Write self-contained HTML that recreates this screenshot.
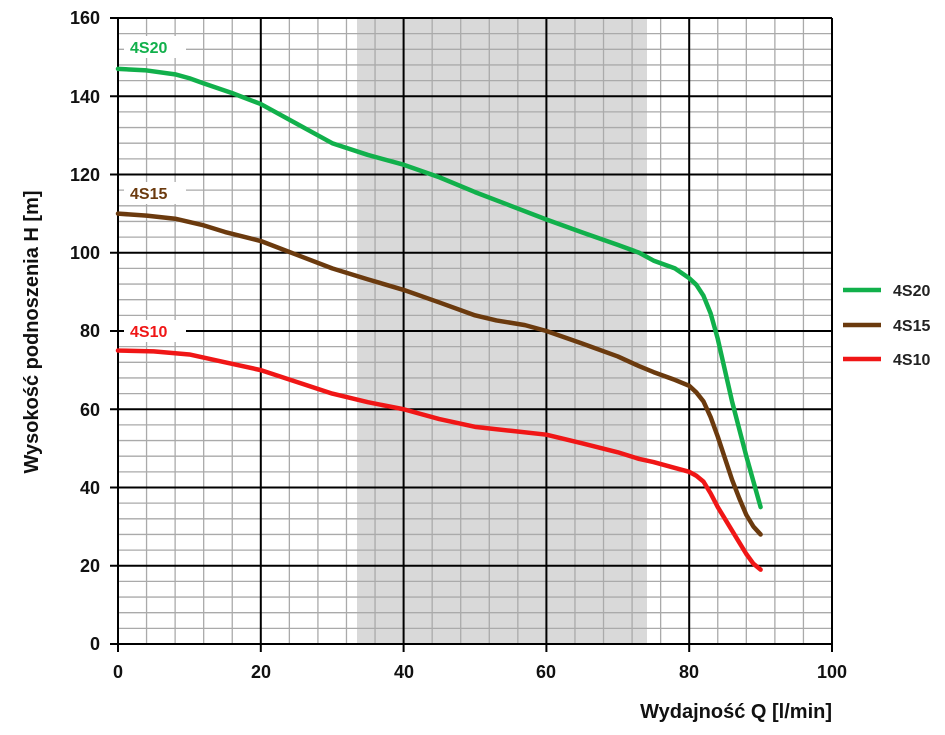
<!DOCTYPE html>
<html><head><style>body{margin:0;background:#fff}svg{display:block}text{font-family:"Liberation Sans",sans-serif}</style></head>
<body>
<svg width="945" height="735" viewBox="0 0 945 735">
<rect x="357" y="18" width="290" height="626" fill="#d9d9d9"/>
<path stroke="#aaa" stroke-width="1.3" fill="none" d="M146.56 18V644M175.12 18V644M203.68 18V644M232.24 18V644M289.36 18V644M317.92 18V644M346.48 18V644M375.04 18V644M432.16 18V644M460.72 18V644M489.28 18V644M517.84 18V644M574.96 18V644M603.52 18V644M632.08 18V644M660.64 18V644M717.76 18V644M746.32 18V644M774.88 18V644M803.44 18V644
M118 628.35H832M118 612.7H832M118 597.05H832M118 581.4H832M118 550.1H832M118 534.45H832M118 518.8H832M118 503.15H832M118 471.85H832M118 456.2H832M118 440.55H832M118 424.9H832M118 393.6H832M118 377.95H832M118 362.3H832M118 346.65H832M118 315.35H832M118 299.7H832M118 284.05H832M118 268.4H832M118 237.1H832M118 221.45H832M118 205.8H832M118 190.15H832M118 158.85H832M118 143.2H832M118 127.55H832M118 111.9H832M118 80.6H832M118 64.95H832M118 49.3H832M118 33.65H832"/>
<path stroke="#000" stroke-width="2" fill="none" d="M118 18V652M260.8 18V652M403.6 18V652M546.4 18V652M689.2 18V652M832 18V652
M110 644H832M110 565.75H832M110 487.5H832M110 409.25H832M110 331H832M110 252.75H832M110 174.5H832M110 96.25H832M110 18H832"/>
<g transform="translate(118,644) scale(7.14,-3.9125)" fill="none" stroke-linejoin="round" stroke-linecap="round">
<polyline vector-effect="non-scaling-stroke" stroke="#11b04b" stroke-width="4.5" points="0,147 4,146.6 8,145.6 10,144.6 12,143.3 16,140.8 20,138 25,133 30,128 35,125 40,122.5 45,119.3 50,115.5 55,112 60,108.5 65,105.2 70,102 73,100 75,98 78,96 80,93.5 81,91.8 82,89 83,84.5 84,78 85,70 86,62 87,55 88,48 89,41.5 90,35"/>
<polyline vector-effect="non-scaling-stroke" stroke="#6b3a0e" stroke-width="4.5" points="0,110 4,109.5 8,108.7 12,107 15,105.3 20,103 25,99.5 30,96 35,93.2 40,90.5 45,87.3 50,84 53,82.7 57,81.5 60,80 65,76.8 70,73.5 73,71 75,69.5 78,67.5 80,66 81,64.3 82,62 83,58 84,53 85,47.5 86,42 87,37.3 88,33 89,30 90,28"/>
<polyline vector-effect="non-scaling-stroke" stroke="#f01616" stroke-width="4.5" points="0,75 5,74.8 10,74 15,72 20,70 25,67 30,64 35,61.8 40,60 45,57.5 50,55.5 55,54.5 60,53.5 65,51.3 70,49 73,47.3 75,46.5 78,45 80,44 81,43 82,41.5 83,38.5 84,35 85,32 86,29 87,26 88,23 89,20.5 90,19"/>
</g>
<g font-size="16" font-weight="bold">
<rect x="124" y="36" width="62" height="22" rx="8" fill="#fff"/><text x="130" y="53" fill="#11b04b">4S20</text>
<rect x="124" y="182" width="62" height="22" rx="8" fill="#fff"/><text x="130" y="199" fill="#6b3a0e">4S15</text>
<rect x="124" y="320" width="62" height="22" rx="8" fill="#fff"/><text x="130" y="337" fill="#f01616">4S10</text>
</g>
<g stroke-width="4.5">
<line x1="843" y1="290" x2="881" y2="290" stroke="#11b04b"/>
<line x1="843" y1="325" x2="881" y2="325" stroke="#6b3a0e"/>
<line x1="843" y1="359" x2="881" y2="359" stroke="#f01616"/>
</g>
<g font-size="16" font-weight="bold" fill="#222">
<text x="893" y="296">4S20</text><text x="893" y="331">4S15</text><text x="893" y="365">4S10</text>
</g>
<g font-size="18" font-weight="bold" fill="#111" text-anchor="end">
<text x="100" y="24">160</text><text x="100" y="103">140</text><text x="100" y="181">120</text><text x="100" y="259">100</text><text x="100" y="337">80</text><text x="100" y="416">60</text><text x="100" y="494">40</text><text x="100" y="572">20</text><text x="100" y="650">0</text>
</g>
<g font-size="18" font-weight="bold" fill="#111" text-anchor="middle">
<text x="118" y="678">0</text><text x="261" y="678">20</text><text x="404" y="678">40</text><text x="546" y="678">60</text><text x="689" y="678">80</text><text x="832" y="678">100</text>
</g>
<text x="832" y="718" font-size="20" font-weight="bold" fill="#111" text-anchor="end">Wydajność Q [l/min]</text>
<text transform="translate(38,332) rotate(-90)" font-size="20" font-weight="bold" fill="#111" text-anchor="middle">Wysokość podnoszenia H [m]</text>
</svg>
</body></html>
